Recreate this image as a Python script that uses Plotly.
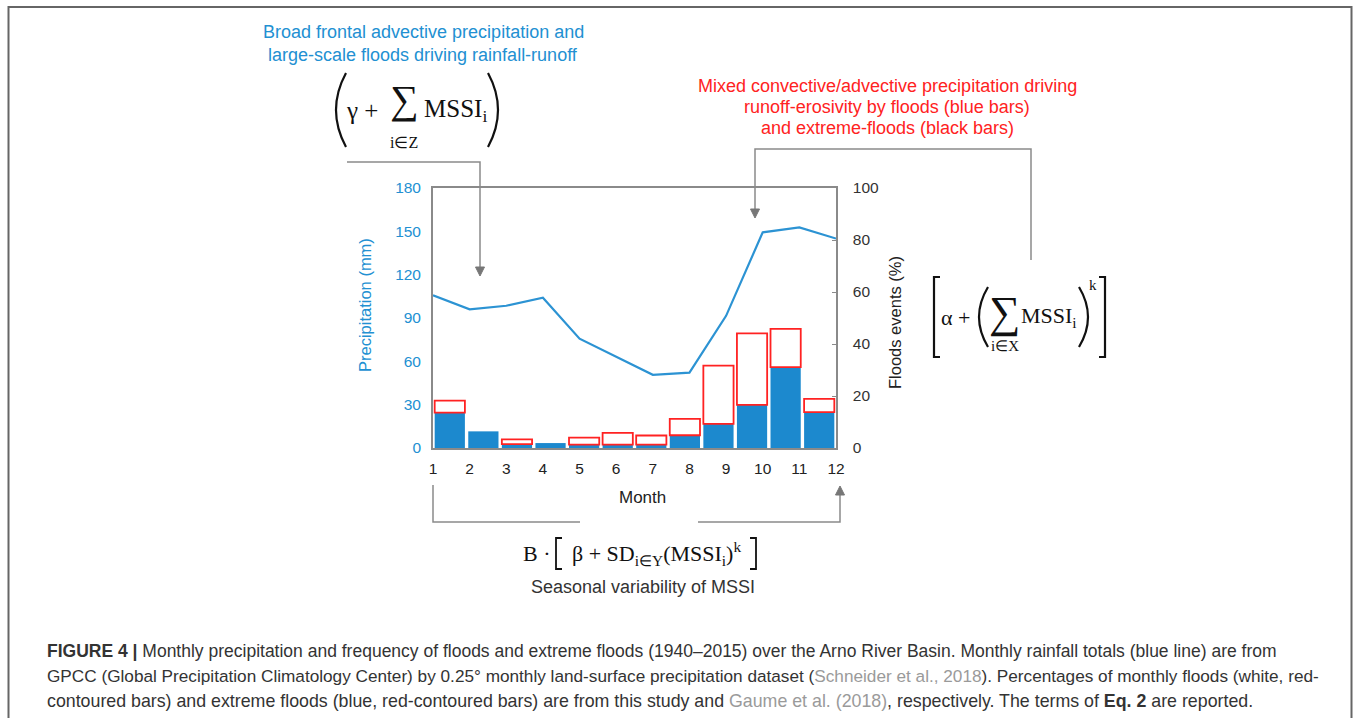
import plotly.graph_objects as go

# ---------------- data ----------------
months = [1, 2, 3, 4, 5, 6, 7, 8, 9, 10, 11, 12]
month_labels = ["1", "2", "3", "4", "5", "6", "7", "8", "9", "10", "11", "12"]
precip_mm = [105.7, 96.0, 98.5, 104.0, 75.7, 63.0, 50.7, 52.2, 91.5, 149.3, 152.7, 145.0]
floods_pct = [18.2, 6.4, 3.3, 1.9, 4.0, 5.8, 4.8, 11.2, 31.7, 44.1, 45.8, 18.9]
extreme_pct = [13.6, 6.4, 1.5, 1.9, 1.3, 1.3, 1.3, 4.9, 9.3, 16.6, 31.1, 13.8]
precip_ticks = [0, 30, 60, 90, 120, 150, 180]
floods_ticks = [0, 20, 40, 60, 80, 100]

W, H = 1354, 718


def X(px):
    return px / W


def Y(py):
    return 1 - py / H


BLUE_BAR = "#1c89ce"
BLUE_LINE = "#2c93d3"
BLUE_TXT = "#2290d2"
RED = "#ff2222"
GRAY = "#8a8a8a"
SANS = "Liberation Sans, Arial, sans-serif"
SERIF = "Liberation Serif, Times New Roman, serif"

white_seg = [(f - e) if (f - e) > 0.05 else None for f, e in zip(floods_pct, extreme_pct)]

fig = go.Figure()
fig.add_trace(go.Bar(
    x=months, y=extreme_pct, width=0.9, xaxis="x", yaxis="y",
    marker=dict(color=BLUE_BAR, line=dict(width=0)), name="Extreme floods"))
fig.add_trace(go.Bar(
    x=months, y=white_seg, base=extreme_pct, width=0.9, xaxis="x", yaxis="y",
    marker=dict(color="white", line=dict(color=RED, width=1.8)), name="Floods"))
fig.add_trace(go.Scatter(
    x=months, y=precip_mm, mode="lines", xaxis="x2", yaxis="y2",
    line=dict(color=BLUE_LINE, width=2.2), name="Precipitation"))

dom_x = [X(433), X(836)]
dom_y = [Y(448), Y(188)]

fig.update_layout(
    width=W, height=H, autosize=False,
    margin=dict(l=0, r=0, t=0, b=0, pad=0, autoexpand=False),
    paper_bgcolor="white", plot_bgcolor="white",
    showlegend=False, barmode="overlay",
    font=dict(family=SANS, size=15, color="#333"),
    xaxis=dict(domain=dom_x, range=[0.5, 12.5], anchor="y", automargin=False,
               showticklabels=False, ticks="", showgrid=False, zeroline=False,
               showline=True, mirror=True, linecolor=GRAY, linewidth=1.5),
    yaxis=dict(domain=dom_y, range=[0, 100], side="right", anchor="x", automargin=False,
               tickvals=floods_ticks, ticks="inside", ticklen=4, tickcolor=GRAY,
               showgrid=False, zeroline=False,
               showline=True, mirror=True, linecolor=GRAY, linewidth=1.5,
               tickfont=dict(family=SANS, size=15.5, color="#333"),
               ticklabelstandoff=12),
    xaxis2=dict(overlaying="x", range=[1, 12], anchor="y2", side="bottom", automargin=False,
                tickvals=months, ticktext=month_labels, ticks="",
                showgrid=False, zeroline=False, showline=False,
                tickfont=dict(family=SANS, size=15.5, color="#222"),
                ticklabelstandoff=9),
    yaxis2=dict(overlaying="y", range=[0, 180], side="left", anchor="x2", automargin=False,
                tickvals=precip_ticks, ticks="", showgrid=False, zeroline=False,
                showline=False,
                tickfont=dict(family=SANS, size=15.5, color=BLUE_TXT),
                ticklabelstandoff=11),
)

ann = []


def txt(px, py, text, size, color="#222", family=SANS, xanchor="center", yanchor="middle"):
    ann.append(dict(x=X(px), y=Y(py), xref="paper", yref="paper", text=text,
                    showarrow=False, xanchor=xanchor, yanchor=yanchor,
                    font=dict(family=family, size=size, color=color)))


# axis titles
ann.append(dict(x=X(365), y=Y(305), xref="paper", yref="paper", text="Precipitation (mm)",
                showarrow=False, textangle=-90, xanchor="center", yanchor="middle",
                font=dict(family=SANS, size=16.5, color=BLUE_TXT)))
ann.append(dict(x=X(895), y=Y(323), xref="paper", yref="paper", text="Floods events (%)",
                showarrow=False, textangle=-90, xanchor="center", yanchor="middle",
                font=dict(family=SANS, size=16.5, color="#222")))
txt(642, 497, "Month", 17)

# blue header
txt(423, 32, "Broad frontal advective precipitation and", 18, BLUE_TXT)
txt(423, 55, "large-scale floods driving rainfall-runoff", 18, BLUE_TXT)

# red header
txt(887, 86, "Mixed convective/advective precipitation driving", 18, RED)
txt(887, 107, "runoff-erosivity by floods (blue bars)", 18, RED)
txt(887, 128, "and extreme-floods (black bars)", 18, RED)

# left equation
txt(362, 110, "γ +", 25, "#111", SERIF)
txt(404, 99, "∑", 40, "#111", SERIF)
txt(404, 142, "i∈Z", 16, "#111", SERIF)
txt(455, 110, "MSSI<sub>i</sub>", 25, "#111", SERIF)

# right equation
txt(955, 317, "α +", 22, "#111", SERIF)
txt(1004, 312, "∑", 44, "#111", SERIF)
txt(1005, 346, "i∈X", 15, "#111", SERIF)
txt(1049, 317, "MSSI<sub>i</sub>", 22, "#111", SERIF)
txt(1093, 285, "k", 15, "#111", SERIF)

# bottom equation
txt(537, 553, "B ·", 22, "#111", SERIF)
txt(656, 553, "β + SD<sub>i∈Y</sub>(MSSI<sub>i</sub>)<sup>k</sup>", 22, "#111", SERIF)
txt(643, 587, "Seasonal variability of MSSI", 18, "#333")

# caption
cap1 = ("<b>FIGURE 4 |</b> Monthly precipitation and frequency of floods and extreme floods "
        "(1940–2015) over the Arno River Basin. Monthly rainfall totals (blue line) are from")
cap2 = ("GPCC (Global Precipitation Climatology Center) by 0.25° monthly land-surface precipitation "
        "dataset (<span style='color:#9a9a9a'>Schneider et al., 2018</span>). Percentages of monthly "
        "floods (white, red-")
cap3 = ("contoured bars) and extreme floods (blue, red-contoured bars) are from this study and "
        "<span style='color:#9a9a9a'>Gaume et al. (2018)</span>, respectively. The terms of "
        "<b>Eq. 2</b> are reported.")
txt(45, 651, cap1, 17.5, "#333", SANS, xanchor="left")
txt(45, 676, cap2, 17.2, "#333", SANS, xanchor="left")
txt(45, 701, cap3, 17.8, "#333", SANS, xanchor="left")

fig.update_layout(annotations=ann)

shapes = []


def line(pts, color=GRAY, width=1.5):
    d = "M " + " L ".join(f"{X(a)},{Y(b)}" for a, b in pts)
    shapes.append(dict(type="path", path=d, xref="paper", yref="paper",
                       line=dict(color=color, width=width)))


def curve(p0, c, p1, color="#111", width=2.2):
    d = f"M {X(p0[0])},{Y(p0[1])} Q {X(c[0])},{Y(c[1])} {X(p1[0])},{Y(p1[1])}"
    shapes.append(dict(type="path", path=d, xref="paper", yref="paper",
                       line=dict(color=color, width=width)))


def tri(tipx, tipy, direction, color="#777"):
    if direction == "down":
        pts = [(tipx, tipy), (tipx - 4.5, tipy - 9), (tipx + 4.5, tipy - 9)]
    else:
        pts = [(tipx, tipy), (tipx - 4.5, tipy + 9), (tipx + 4.5, tipy + 9)]
    d = "M " + " L ".join(f"{X(a)},{Y(b)}" for a, b in pts) + " Z"
    shapes.append(dict(type="path", path=d, xref="paper", yref="paper",
                       fillcolor=color, line=dict(color=color, width=1)))


# outer border
line([(8.5, 730), (8.5, 7), (1351.5, 7), (1351.5, 730)], color="#666", width=2)

# left connector
line([(347, 162), (480, 162), (480, 268)])
tri(480, 276, "down")
# right connector
line([(1031, 260), (1031, 149), (755, 149), (755, 210)])
tri(755, 218, "down")
# bottom bracket
line([(580, 522), (433, 522), (433, 485)])
line([(698, 522), (840, 522), (840, 494)])
tri(840, 486, "up")

# left equation parentheses
curve((346, 73), (326, 110), (346, 147))
curve((488, 73), (508, 110), (488, 147))
# right equation parentheses & brackets
curve((988, 287), (970, 317), (988, 347))
curve((1079, 287), (1097, 317), (1079, 347))
line([(940, 277), (934, 277), (934, 357), (940, 357)], color="#111", width=2.2)
line([(1099, 277), (1105, 277), (1105, 357), (1099, 357)], color="#111", width=2.2)
# bottom equation brackets
line([(562, 538), (556, 538), (556, 569), (562, 569)], color="#111", width=1.8)
line([(750, 538), (756, 538), (756, 569), (750, 569)], color="#111", width=1.8)

fig.update_layout(shapes=shapes)

fig.write_html("out.html", config={"displayModeBar": False})
